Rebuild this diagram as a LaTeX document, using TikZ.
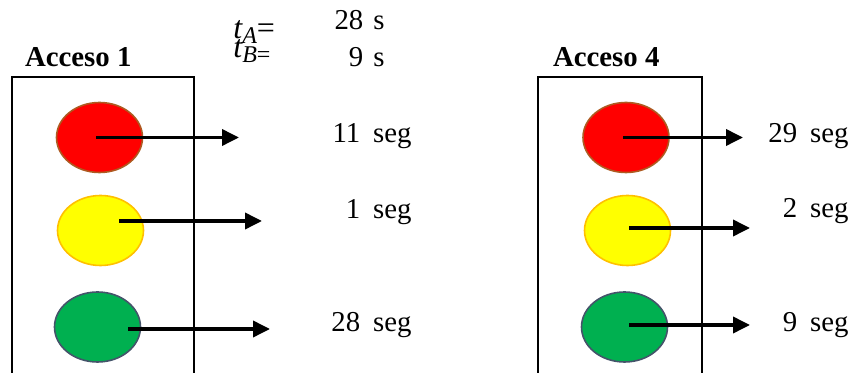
\documentclass[tikz,border=0pt]{standalone}
\usepackage{fontspec}
\setmainfont{Liberation Serif}
\usetikzlibrary{arrows.meta,shapes.geometric}
\definecolor{rojo}{HTML}{FF0000}
\definecolor{rojoborde}{HTML}{AE5A21}
\definecolor{amarillo}{HTML}{FFFF00}
\definecolor{amarilloborde}{HTML}{FFC000}
\definecolor{verde}{HTML}{00B050}
\definecolor{verdeborde}{HTML}{44546A}

\begin{document}
\begin{tikzpicture}[x=0.5pt, y=-0.5pt, >={Triangle[length=8.5pt,width=8pt]},
    luz/.style 2 args={ellipse, draw=#2, fill=#1, line width=0.8pt,
                       minimum width=43pt, minimum height=35pt, inner sep=0pt},
    caja/.style={line width=1pt},
    arr/.style={->, line width=1.8pt},
    titulo/.style={anchor=base west, font=\fontsize{14.4}{16}\selectfont\bfseries},
    tiempo/.style={anchor=base east, font=\fontsize{14.4}{16}\selectfont, inner sep=0pt},
    var/.style={anchor=base west, font=\fontsize{16}{16}\selectfont\itshape, inner sep=0pt}]

  \useasboundingbox (0,0) rectangle (856,373);

  %% Cycle times
  \node[var] (ta) at (233,39) {t\raisebox{-0.3ex}{\fontsize{12}{12}\selectfont A}\upshape=};
  \node[var] (tb) at (233,58) {t\raisebox{-0.3ex}{\fontsize{12}{12}\selectfont B\upshape=}};
  \node[tiempo] (vta) at (385,30) {28\hspace{0.35em}s};
  \node[tiempo] (vtb) at (385,67) {9\hspace{0.35em}s};

  %% Acceso 1
  \node[titulo] (acc1) at (18,67) {Acceso 1};
  \draw[caja] (12,373) |- (194,77) -- (194,373);
  \node[luz={rojo}{rojoborde}]         (r1) at (99.5,137.5) {};
  \node[luz={amarillo}{amarilloborde}] (y1) at (100.5,230.5) {};
  \node[luz={verde}{verdeborde}]       (g1) at (97.5,327) {};
  \coordinate (er1) at (239,137.5);
  \coordinate (ey1) at (262,221);
  \coordinate (eg1) at (270,329);
  \draw[arr] ([shift={(-3.5,0)}]r1.center) -- (er1);
  \draw[arr] ([shift={(18.5,-9.5)}]y1.center) -- (ey1);
  \draw[arr] ([shift={(30.5,2)}]g1.center) -- (eg1);
  \node[tiempo] (tr1) at (412,143) {11\hspace{0.45em}seg};
  \node[tiempo] (ty1) at (412,219) {1\hspace{0.45em}seg};
  \node[tiempo] (tg1) at (412,332) {28\hspace{0.45em}seg};

  %% Acceso 4
  \node[titulo] (acc4) at (546,67) {Acceso 4};
  \draw[caja] (538,373) |- (702,77) -- (702,373);
  \node[luz={rojo}{rojoborde}]         (r4) at (626,137.5) {};
  \node[luz={amarillo}{amarilloborde}] (y4) at (627.5,230.5) {};
  \node[luz={verde}{verdeborde}]       (g4) at (624.5,327) {};
  \coordinate (er4) at (743,137.5);
  \coordinate (ey4) at (750,228);
  \coordinate (eg4) at (750,325);
  \draw[arr] ([shift={(-3,0)}]r4.center) -- (er4);
  \draw[arr] ([shift={(1.5,-2.5)}]y4.center) -- (ey4);
  \draw[arr] ([shift={(4.5,-2)}]g4.center) -- (eg4);
  \node[tiempo] (tr4) at (849,143) {29\hspace{0.45em}seg};
  \node[tiempo] (ty4) at (849,218) {2\hspace{0.45em}seg};
  \node[tiempo] (tg4) at (849,332) {9\hspace{0.45em}seg};
\end{tikzpicture}
\end{document}
